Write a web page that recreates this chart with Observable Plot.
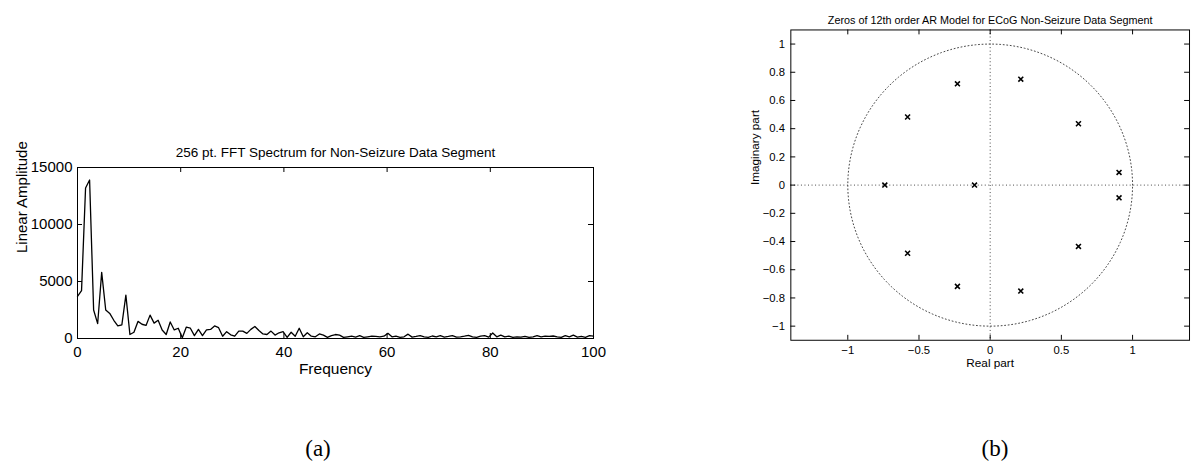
<!DOCTYPE html>
<html><head><meta charset="utf-8">
<script src="https://cdn.jsdelivr.net/npm/d3@7"></script>
<script src="https://cdn.jsdelivr.net/npm/@observablehq/plot@0.6"></script>
<style>
html,body{margin:0;padding:0;background:#fff;width:1191px;height:468px;overflow:hidden;position:relative;font-family:"Liberation Sans",Arial,sans-serif;}
#a{position:absolute;left:0;top:130px;}
#b{position:absolute;left:700px;top:0;}
.cap{position:absolute;font-family:"Liberation Serif","Times New Roman",serif;font-size:23px;transform:translate(-50%,-50%);white-space:nowrap;}
</style></head><body>
<div id="a"></div><div id="b"></div>
<div class="cap" style="left:318px;top:449px">(a)</div>
<div class="cap" style="left:995px;top:449px">(b)</div>
<script>
// ---- Panel (a): 256 pt FFT spectrum ----
const sampleRate = 200, fftSize = 256;
const amplitude = [
  3700, 4200, 13200, 13900, 2500, 1300, 5800, 2500, 2200, 1600,
  1100, 1200, 3800, 350, 550, 1500, 1250, 1150, 2050, 1350,
  1600, 750, 350, 1450, 750, 900, 60, 1000, 900, 250,
  800, 250, 750, 800, 1100, 950, 200, 600, 320, 200,
  650, 650, 450, 800, 1050, 700, 400, 350, 650, 300,
  500, 600, 100, 550, 200, 900, 150, 500, 200, 150,
  400, 300, 100, 250, 350, 300, 100, 150, 200, 120,
  250, 100, 150, 200, 180, 150, 200, 450, 150, 200,
  100, 150, 380, 120, 180, 250, 150, 100, 220, 150,
  250, 120, 180, 260, 120, 150, 200, 280, 150, 100,
  200, 250, 120, 480, 150, 300, 150, 200, 100, 150,
  120, 180, 100, 150, 250, 150, 200, 180, 220, 150,
  100, 250, 150, 300, 120, 180, 100, 250, 200
];
const freqTicks = [0, 20, 40, 60, 80, 100];
const ampTicks = [0, 5000, 10000, 15000];
const titleA = "256 pt. FFT Spectrum for Non-Seizure Data Segment";
const xLabelA = "Frequency";
const yLabelA = "Linear Amplitude";

// ---- Panel (b): zeros of 12th order AR model ----
const zerosReal = [-0.58, -0.58, -0.23, -0.23, 0.215, 0.215, 0.62, 0.62, 0.905, 0.905, -0.74, -0.11];
const zerosImag = [0.483, -0.483, 0.718, -0.718, 0.751, -0.751, 0.435, -0.435, 0.09, -0.09, 0, 0];
const realTicks = [-1, -0.5, 0, 0.5, 1];
const imagTicks = [-1, -0.8, -0.6, -0.4, -0.2, 0, 0.2, 0.4, 0.6, 0.8, 1];
const titleB = "Zeros of 12th order AR Model for ECoG Non-Seizure Data Segment";
const xLabelB = "Real part";
const yLabelB = "Imaginary part";

const font = "'Liberation Sans', Arial, Helvetica, sans-serif";
const fmt = d => (d < 0 ? "\u2212" : "") + String(Math.abs(d));

// Panel A
const spectrum = amplitude.map((a, i) => ({f: i * sampleRate / fftSize, a}));
const fwA = 516, fhA = 171;
const plotA = Plot.plot({
  width: 613, height: 253,
  marginLeft: 77, marginRight: 20, marginTop: 37, marginBottom: 45,
  style: {fontFamily: font, fontSize: "15px", background: "white", color: "black", overflow: "visible"},
  x: {domain: [0, 100]},
  y: {domain: [0, 15000]},
  marks: [
    Plot.line(spectrum, {x: "f", y: "a", stroke: "black", strokeWidth: 1.3}),
    Plot.frame({stroke: "black", strokeWidth: 1}),
    Plot.tickX(freqTicks, {x: d => d, insetTop: fhA - 5, stroke: "black"}),
    Plot.tickX(freqTicks, {x: d => d, insetBottom: fhA - 5, stroke: "black"}),
    Plot.tickY(ampTicks, {y: d => d, insetRight: fwA - 5, stroke: "black"}),
    Plot.tickY(ampTicks, {y: d => d, insetLeft: fwA - 5, stroke: "black"}),
    Plot.axisX({ticks: freqTicks, tickFormat: fmt, tickSize: 0, tickPadding: 8, fontSize: 15, label: null}),
    Plot.axisY({ticks: ampTicks, tickFormat: fmt, tickSize: 0, tickPadding: 5, fontSize: 15, label: null}),
    Plot.text([titleA], {text: d => d, frameAnchor: "top", lineAnchor: "middle", dy: -15, fontSize: 13.5}),
    Plot.text([xLabelA], {text: d => d, frameAnchor: "bottom", lineAnchor: "middle", dy: 31, fontSize: 15.5}),
    Plot.text([yLabelA], {text: d => d, frameAnchor: "left", lineAnchor: "middle", dx: -55, rotate: -90, fontSize: 15})
  ]
});
document.getElementById("a").appendChild(plotA);

// Panel B
const zeros = zerosReal.map((re, i) => ({re, im: zerosImag[i]}));
const unitCircle = d3.range(0, 361, 2).map(t => ({x: Math.cos(t * Math.PI / 180), y: Math.sin(t * Math.PI / 180)}));
const fwB = 406, fhB = 316;
const plotB = Plot.plot({
  width: 500, height: 386,
  marginLeft: 92, marginRight: 2, marginTop: 30, marginBottom: 40,
  style: {fontFamily: font, fontSize: "11.5px", background: "white", color: "black", overflow: "visible"},
  x: {domain: [-1.4, 1.4]},
  y: {domain: [-1.1, 1.1]},
  marks: [
    Plot.line(unitCircle, {x: "x", y: "y", stroke: "#444", strokeWidth: 1, strokeDasharray: "1,2.6"}),
    Plot.ruleX([0], {stroke: "#444", strokeWidth: 1, strokeDasharray: "1,2.6"}),
    Plot.ruleY([0], {stroke: "#444", strokeWidth: 1, strokeDasharray: "1,2.6"}),
    Plot.dot(zeros, {x: "re", y: "im", symbol: "times", r: 2.4, stroke: "black", strokeWidth: 1.6}),
    Plot.frame({stroke: "black", strokeWidth: 1}),
    Plot.tickX(realTicks, {x: d => d, insetTop: fhB - 5, stroke: "black"}),
    Plot.tickX(realTicks, {x: d => d, insetBottom: fhB - 5, stroke: "black"}),
    Plot.tickY(imagTicks, {y: d => d, insetRight: fwB - 5, stroke: "black"}),
    Plot.tickY(imagTicks, {y: d => d, insetLeft: fwB - 5, stroke: "black"}),
    Plot.axisX({ticks: realTicks, tickFormat: fmt, tickSize: 0, tickPadding: 6, fontSize: 11.5, label: null}),
    Plot.axisY({ticks: imagTicks, tickFormat: fmt, tickSize: 0, tickPadding: 6, fontSize: 11.5, label: null}),
    Plot.text([titleB], {text: d => d, frameAnchor: "top", lineAnchor: "middle", dy: -10, fontSize: 11}),
    Plot.text([xLabelB], {text: d => d, frameAnchor: "bottom", lineAnchor: "middle", dy: 23, fontSize: 12}),
    Plot.text([yLabelB], {text: d => d, frameAnchor: "left", lineAnchor: "middle", dx: -36, rotate: -90, fontSize: 12})
  ]
});
document.getElementById("b").appendChild(plotB);
</script>
</body></html>
